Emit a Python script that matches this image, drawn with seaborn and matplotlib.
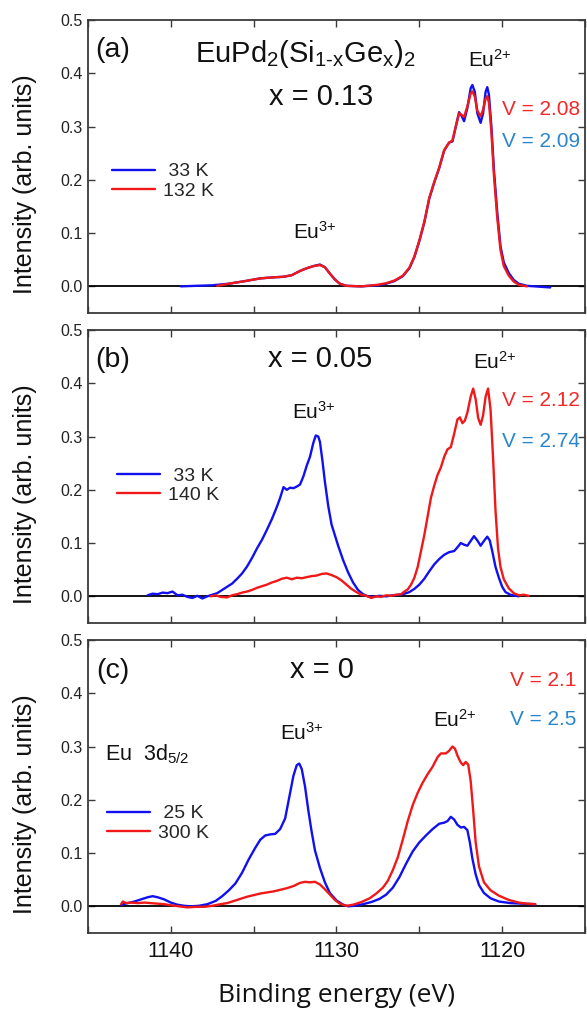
import matplotlib
matplotlib.use("Agg")
import matplotlib.pyplot as plt
from matplotlib.ticker import MultipleLocator, FormatStrFormatter
import seaborn as sns

# ---- Eu 3d5/2 XPS spectra (binding energy in eV, intensity in arb. units) ----
# (a) x = 0.13
a_blue_e = [1139.4, 1138.5, 1137.5, 1136.5, 1135.5, 1134.6, 1133.8, 1133.2, 1132.7, 1132.2,
            1131.8, 1131.4, 1131.0, 1130.7, 1130.4, 1130.1, 1129.8, 1129.4, 1128.5, 1127.5,
            1127.0, 1126.5, 1126.0, 1125.6, 1125.3, 1125.0, 1124.7, 1124.4, 1124.1, 1123.8,
            1123.5, 1123.2, 1123.0, 1122.8, 1122.6, 1122.45, 1122.3, 1122.1, 1121.9, 1121.8,
            1121.65, 1121.5, 1121.3, 1121.15, 1121.0, 1120.9, 1120.8, 1120.65, 1120.5, 1120.3,
            1120.1, 1119.9, 1119.6, 1119.3, 1119.0, 1118.5, 1117.1]
a_blue_i = [0.000, 0.001, 0.002, 0.005, 0.010, 0.015, 0.017, 0.018, 0.021, 0.029,
            0.034, 0.038, 0.041, 0.036, 0.024, 0.013, 0.005, 0.001, 0.000, 0.002,
            0.005, 0.010, 0.019, 0.034, 0.055, 0.085, 0.120, 0.165, 0.195, 0.222,
            0.255, 0.270, 0.272, 0.300, 0.327, 0.320, 0.310, 0.335, 0.372, 0.378,
            0.365, 0.325, 0.307, 0.325, 0.365, 0.374, 0.360, 0.300, 0.220, 0.140,
            0.075, 0.045, 0.025, 0.012, 0.005, 0.001, -0.002]
a_red_e = [1137.2, 1136.5, 1135.5, 1134.6, 1133.8, 1133.2, 1132.7, 1132.2, 1131.8, 1131.4,
           1131.0, 1130.7, 1130.4, 1130.1, 1129.8, 1129.4, 1128.5, 1127.5, 1127.0, 1126.5,
           1126.0, 1125.6, 1125.3, 1125.0, 1124.7, 1124.4, 1124.1, 1123.8, 1123.5, 1123.2,
           1123.0, 1122.8, 1122.6, 1122.45, 1122.3, 1122.1, 1121.9, 1121.8, 1121.65, 1121.5,
           1121.3, 1121.15, 1121.0, 1120.9, 1120.8, 1120.65, 1120.5, 1120.3, 1120.1, 1119.9,
           1119.6, 1119.3, 1119.0, 1118.5]
a_red_i = [0.001, 0.005, 0.010, 0.015, 0.017, 0.018, 0.021, 0.029, 0.034, 0.038,
           0.040, 0.036, 0.024, 0.013, 0.005, 0.001, 0.000, 0.003, 0.006, 0.011,
           0.020, 0.035, 0.056, 0.086, 0.121, 0.166, 0.196, 0.223, 0.256, 0.270,
           0.274, 0.300, 0.325, 0.322, 0.318, 0.338, 0.362, 0.366, 0.356, 0.330,
           0.319, 0.332, 0.352, 0.357, 0.345, 0.290, 0.210, 0.130, 0.068, 0.038,
           0.020, 0.009, 0.003, 0.000]

# (b) x = 0.05
b_blue_e = [1141.4, 1141.1, 1140.8, 1140.5, 1140.2, 1139.9, 1139.6, 1139.3, 1139.0, 1138.7,
            1138.4, 1138.1, 1137.8, 1137.5, 1137.2, 1136.9, 1136.6, 1136.3, 1136.0, 1135.7,
            1135.4, 1135.1, 1134.8, 1134.5, 1134.2, 1133.9, 1133.6, 1133.4, 1133.2, 1133.0,
            1132.8, 1132.6, 1132.4, 1132.2, 1132.0, 1131.8, 1131.6, 1131.4, 1131.25, 1131.1,
            1131.0, 1130.85, 1130.7, 1130.5, 1130.3, 1130.1, 1129.9, 1129.6, 1129.3, 1129.0,
            1128.7, 1128.4, 1128.1, 1127.8, 1127.4, 1127.0, 1126.6, 1126.2, 1125.9, 1125.6,
            1125.3, 1125.0, 1124.7, 1124.4, 1124.1, 1123.8, 1123.5, 1123.2, 1122.9, 1122.7,
            1122.5, 1122.3, 1122.1, 1121.9, 1121.7, 1121.5, 1121.3, 1121.1, 1120.9, 1120.75,
            1120.6, 1120.4, 1120.2, 1120.0, 1119.8, 1119.5, 1119.0]
b_blue_i = [0.002, 0.005, 0.004, 0.007, 0.006, 0.009, 0.002, 0.003, -0.001, -0.003,
            0.001, -0.004, 0.000, 0.003, 0.006, 0.012, 0.018, 0.024, 0.033, 0.043,
            0.056, 0.072, 0.090, 0.106, 0.125, 0.145, 0.168, 0.185, 0.205, 0.200,
            0.204, 0.203, 0.206, 0.210, 0.225, 0.245, 0.262, 0.288, 0.302, 0.300,
            0.290, 0.255, 0.215, 0.170, 0.135, 0.115, 0.095, 0.068, 0.045, 0.026,
            0.012, 0.004, 0.000, -0.001, 0.001, 0.000, 0.002, 0.003, 0.005, 0.008,
            0.014, 0.022, 0.033, 0.047, 0.060, 0.070, 0.078, 0.083, 0.085, 0.092,
            0.100, 0.097, 0.095, 0.104, 0.113, 0.105, 0.095, 0.104, 0.112, 0.105,
            0.085, 0.055, 0.035, 0.018, 0.008, 0.003, 0.000]
b_red_e = [1137.6, 1137.3, 1137.0, 1136.6, 1136.3, 1136.0, 1135.7, 1135.4, 1135.1, 1134.8,
           1134.5, 1134.2, 1133.9, 1133.6, 1133.3, 1133.0, 1132.7, 1132.4, 1132.1, 1131.8,
           1131.5, 1131.2, 1130.9, 1130.6, 1130.3, 1130.0, 1129.7, 1129.4, 1129.1, 1128.8,
           1128.5, 1128.2, 1127.9, 1127.6, 1127.3, 1127.0, 1126.7, 1126.4, 1126.1, 1125.9,
           1125.7, 1125.5, 1125.3, 1125.1, 1124.9, 1124.7, 1124.5, 1124.3, 1124.1, 1123.9,
           1123.7, 1123.5, 1123.3, 1123.1, 1122.9, 1122.7, 1122.55, 1122.4, 1122.25, 1122.1,
           1121.9, 1121.75, 1121.6, 1121.45, 1121.3, 1121.15, 1121.0, 1120.85, 1120.7, 1120.55,
           1120.4, 1120.25, 1120.1, 1119.9, 1119.6, 1119.3, 1119.0, 1118.7, 1118.4]
b_red_i = [0.000, 0.002, -0.001, -0.002, 0.002, 0.004, 0.007, 0.009, 0.012, 0.016,
           0.019, 0.022, 0.026, 0.029, 0.033, 0.035, 0.032, 0.035, 0.034, 0.036,
           0.038, 0.039, 0.042, 0.043, 0.040, 0.036, 0.030, 0.022, 0.014, 0.008,
           0.003, 0.001, -0.003, 0.000, -0.001, 0.002, 0.001, 0.003, 0.004, 0.009,
           0.013, 0.022, 0.035, 0.055, 0.085, 0.115, 0.150, 0.185, 0.208, 0.228,
           0.242, 0.262, 0.276, 0.280, 0.305, 0.332, 0.336, 0.325, 0.330, 0.345,
           0.375, 0.390, 0.370, 0.335, 0.322, 0.340, 0.375, 0.390, 0.350, 0.260,
           0.160, 0.090, 0.055, 0.032, 0.015, 0.006, 0.002, 0.003, 0.001]

# (c) x = 0
c_blue_e = [1143.0, 1142.6, 1142.2, 1141.8, 1141.4, 1141.1, 1140.8, 1140.4, 1140.0, 1139.6,
            1139.2, 1138.8, 1138.3, 1137.8, 1137.3, 1136.9, 1136.5, 1136.1, 1135.7, 1135.3,
            1134.9, 1134.6, 1134.3, 1134.0, 1133.7, 1133.4, 1133.1, 1132.85, 1132.6, 1132.4,
            1132.25, 1132.1, 1131.9, 1131.7, 1131.5, 1131.3, 1131.0, 1130.7, 1130.4, 1130.0,
            1129.6, 1129.3, 1128.9, 1128.4, 1127.9, 1127.4, 1127.0, 1126.6, 1126.2, 1125.8,
            1125.4, 1125.0, 1124.6, 1124.2, 1123.8, 1123.5, 1123.3, 1123.1, 1122.9, 1122.7,
            1122.5, 1122.3, 1122.1, 1121.95, 1121.8, 1121.6, 1121.4, 1121.1, 1120.7, 1120.2,
            1119.5, 1118.8, 1118.0]
c_blue_i = [0.003, 0.006, 0.009, 0.013, 0.017, 0.019, 0.017, 0.013, 0.007, 0.003,
            0.001, 0.000, 0.001, 0.004, 0.010, 0.019, 0.030, 0.043, 0.063, 0.088,
            0.110, 0.125, 0.133, 0.135, 0.136, 0.145, 0.165, 0.205, 0.245, 0.265,
            0.268, 0.258, 0.225, 0.180, 0.140, 0.105, 0.072, 0.045, 0.025, 0.011,
            0.003, 0.000, 0.001, 0.004, 0.008, 0.014, 0.022, 0.035, 0.055, 0.080,
            0.103, 0.120, 0.133, 0.145, 0.155, 0.157, 0.160, 0.168, 0.163, 0.153,
            0.148, 0.149, 0.143, 0.120, 0.090, 0.060, 0.040, 0.025, 0.015, 0.009,
            0.006, 0.005, 0.004]
c_red_e = [1143.0, 1142.9, 1142.7, 1142.4, 1142.0, 1141.6, 1141.2, 1140.8, 1140.4, 1140.0,
           1139.5, 1139.0, 1138.5, 1138.0, 1137.5, 1137.0, 1136.6, 1136.2, 1135.8, 1135.4,
           1135.0, 1134.6, 1134.2, 1133.8, 1133.4, 1133.0, 1132.6, 1132.2, 1131.9, 1131.6,
           1131.3, 1131.0, 1130.7, 1130.4, 1130.1, 1129.8, 1129.4, 1129.0, 1128.5, 1128.0,
           1127.6, 1127.2, 1126.9, 1126.6, 1126.3, 1126.0, 1125.7, 1125.4, 1125.1, 1124.8,
           1124.5, 1124.2, 1123.9, 1123.7, 1123.4, 1123.2, 1123.0, 1122.85, 1122.7, 1122.5,
           1122.35, 1122.2, 1122.05, 1121.9, 1121.75, 1121.6, 1121.4, 1121.1, 1120.7, 1120.2,
           1119.6, 1119.0, 1118.5, 1118.0]
c_red_i = [0.004, 0.009, 0.006, 0.007, 0.006, 0.007, 0.006, 0.005, 0.004, 0.002,
           0.000, -0.002, -0.001, -0.001, 0.001, 0.004, 0.006, 0.010, 0.014, 0.018,
           0.021, 0.024, 0.026, 0.028, 0.031, 0.034, 0.038, 0.044, 0.046, 0.045,
           0.046, 0.041, 0.032, 0.022, 0.012, 0.005, 0.001, 0.003, 0.008, 0.015,
           0.024, 0.035, 0.048, 0.068, 0.092, 0.125, 0.160, 0.190, 0.213, 0.232,
           0.248, 0.262, 0.280, 0.287, 0.287, 0.292, 0.300, 0.296, 0.283, 0.270,
           0.265, 0.271, 0.266, 0.235, 0.180, 0.120, 0.075, 0.045, 0.030, 0.020,
           0.012, 0.007, 0.005, 0.004]

panel_tags = ["(a)", "(b)", "(c)"]
compositions = ["x = 0.13", "x = 0.05", "x = 0"]
low_T_labels = [" 33 K", " 33 K", " 25 K"]
high_T_labels = ["132 K", "140 K", "300 K"]
valence_high_T = ["V = 2.08", "V = 2.12", "V = 2.1"]
valence_low_T = ["V = 2.09", "V = 2.74", "V = 2.5"]
y_ticks = [0.0, 0.1, 0.2, 0.3, 0.4, 0.5]
x_ticks = [1140, 1130, 1120]

BLUE = "#1010F0"
RED = "#F01818"
V_RED = "#F42828"
V_BLUE = "#2A86CC"
SPINE = "#3a3a3a"

sns.set_theme(style="ticks")
plt.rcParams["font.family"] = ["Liberation Sans", "DejaVu Sans"]
plt.rcParams["mathtext.fontset"] = "custom"
plt.rcParams["mathtext.rm"] = "Liberation Sans"
plt.rcParams["mathtext.it"] = "Liberation Sans:italic"
plt.rcParams["mathtext.bf"] = "Liberation Sans:bold"

fig = plt.figure(figsize=(5.87, 10.11), dpi=100)
left, width = 0.1499, 0.8467
bottoms = [0.6904, 0.3838, 0.0772]
height = 0.2898

spectra = [
    (a_blue_e, a_blue_i, a_red_e, a_red_i),
    (b_blue_e, b_blue_i, b_red_e, b_red_i),
    (c_blue_e, c_blue_i, c_red_e, c_red_i),
]

# per-panel text placement (axes fractions)
tag_y = [0.898, 0.898, 0.894]
comp_xy = [(0.469, 0.737), (0.467, 0.901), (0.471, 0.898)]
eu2_xy = [(0.809, 0.863), (0.819, 0.891), (0.738, 0.727)]
eu3_xy = [(0.457, 0.276), (0.455, 0.720), (0.431, 0.683)]
vhi_xy = [(0.911, 0.693), (0.911, 0.761), (0.915, 0.860)]
vlo_xy = [(0.911, 0.587), (0.911, 0.621), (0.915, 0.727)]
leg_xy = [(0.048, 0.449), (0.058, 0.469), (0.038, 0.374)]

axes = []
for k in range(3):
    ax = fig.add_axes([left, bottoms[k], width, height])
    axes.append(ax)
    be, bi, re_, ri = spectra[k]
    ax.axhline(0, color="black", lw=1.3, zorder=1)
    sns.lineplot(x=be, y=bi, ax=ax, color=BLUE, lw=1.7, sort=False,
                 estimator=None, label=low_T_labels[k], zorder=2)
    sns.lineplot(x=re_, y=ri, ax=ax, color=RED, lw=1.7, sort=False,
                 estimator=None, label=high_T_labels[k], zorder=3)

    ax.set_xlim(1145, 1115)
    ax.set_ylim(-0.05, 0.5)
    ax.set_yticks(y_ticks)
    ax.yaxis.set_major_formatter(FormatStrFormatter("%.1f"))
    ax.xaxis.set_major_locator(MultipleLocator(10))
    ax.xaxis.set_minor_locator(MultipleLocator(5))
    ax.tick_params(axis="both", which="both", direction="in", top=True, right=True,
                   length=5, width=1.0, color=SPINE)
    ax.tick_params(axis="y", labelsize=11.5, pad=4, labelcolor="#222222")
    ax.tick_params(axis="x", labelsize=15.5, pad=6, labelcolor="#111111")
    for sp in ax.spines.values():
        sp.set_color(SPINE)
        sp.set_linewidth(1.3)
    if k < 2:
        ax.tick_params(axis="x", labelbottom=False)
    ax.set_xlabel("")
    ax.set_ylabel("Intensity (arb. units)", fontsize=18, color="#111111")
    ax.yaxis.set_label_coords(-0.103, 0.44)

    ax.legend(loc="center left", bbox_to_anchor=leg_xy[k], frameon=False, fontsize=14,
              handlelength=2.2, handletextpad=0.45, labelspacing=0.1,
              borderpad=0, borderaxespad=0)

    tr = ax.transAxes
    ax.text(0.050, tag_y[k], panel_tags[k], transform=tr, fontsize=20.5,
            ha="center", va="center", color="#111111")
    ax.text(*comp_xy[k], compositions[k], transform=tr, fontsize=21,
            ha="center", va="center", color="#111111")
    ax.text(*eu2_xy[k], r"Eu$^{\text{2+}}$", transform=tr, fontsize=15,
            ha="center", va="center", color="#111111")
    ax.text(*eu3_xy[k], r"Eu$^{\text{3+}}$", transform=tr, fontsize=15,
            ha="center", va="center", color="#111111")
    ax.text(*vhi_xy[k], valence_high_T[k], transform=tr, fontsize=15,
            ha="center", va="center", color=V_RED)
    ax.text(*vlo_xy[k], valence_low_T[k], transform=tr, fontsize=15,
            ha="center", va="center", color=V_BLUE)

axes[0].text(0.437, 0.884, r"EuPd$_{\text{2}}$(Si$_{\text{1-x}}$Ge$_{\text{x}}$)$_{\text{2}}$",
             transform=axes[0].transAxes, fontsize=21, ha="center", va="center",
             color="#111111")
axes[2].text(0.034, 0.611, r"Eu  3d$_{\text{5/2}}$", transform=axes[2].transAxes,
             fontsize=15.5, ha="left", va="center", color="#111111")

axes[2].set_xticks(x_ticks)
axes[2].set_xlabel("Binding energy (eV)", fontsize=19, family=["Open Sans", "DejaVu Sans"],
                   color="#111111")
axes[2].xaxis.label.set_va("center")
axes[2].xaxis.set_label_coords(0.501, -0.212)

fig.savefig("out.png", dpi=100, facecolor="white")
